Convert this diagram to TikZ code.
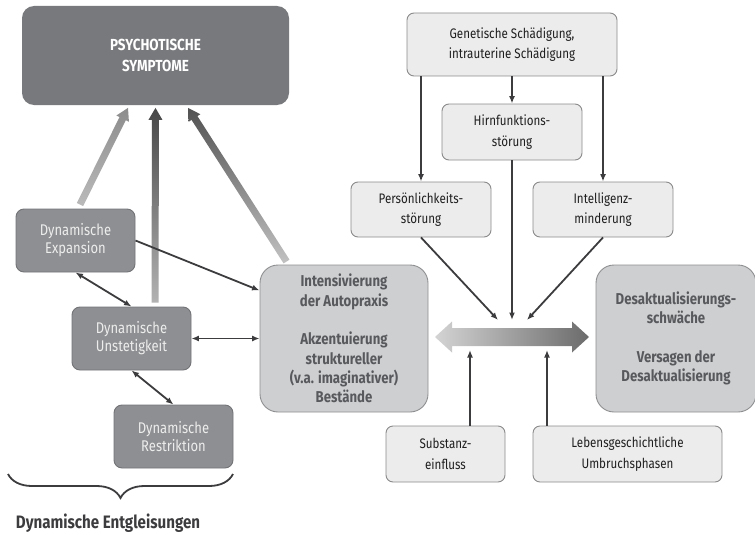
\documentclass[tikz,border=0pt]{standalone}
\usepackage{fontspec}
\setmainfont{Fira Sans}[FakeStretch=0.84]
\usetikzlibrary{arrows.meta,calc,decorations.pathreplacing}

\definecolor{symgray}{HTML}{78797C}
\definecolor{dyngray}{HTML}{8E8F92}
\definecolor{dynline}{HTML}{727376}
\definecolor{biggray}{HTML}{CECFD1}
\definecolor{bigline}{HTML}{8E8F91}
\definecolor{bigtext}{HTML}{58595C}
\definecolor{lightgray}{HTML}{ECECEC}
\definecolor{lightline}{HTML}{8A8A8A}
\definecolor{linkgray}{HTML}{3C3C3E}

\tikzset{every picture/.style={line width=1.8pt}}
\tikzset{
  symbox/.style={fill=symgray, rounded corners=12pt, text=white, align=center,
    minimum width=267pt, minimum height=99pt, inner sep=0pt,
    font=\fontsize{16}{21.7}\selectfont\bfseries},
  dynbox/.style={fill=dyngray, draw=dynline, line width=0.9pt, rounded corners=8pt,
    text=white!93!black, align=center, minimum width=119pt, minimum height=63pt,
    inner sep=0pt, font=\fontsize{15.5}{18}\selectfont},
  bigbox/.style={fill=biggray, draw=bigline, line width=0.9pt, rounded corners=18pt,
    text=bigtext, align=center, minimum height=147pt, inner sep=0pt,
    font=\fontsize{15.7}{19.3}\selectfont\bfseries},
  factbox/.style={fill=lightgray, draw=lightline, line width=0.9pt, rounded corners=7pt,
    text=black!88, align=center, minimum height=56pt, inner sep=0pt,
    font=\fontsize{13.8}{20.5}\selectfont},
  link/.style={draw=linkgray, -{Latex[length=7.5pt,width=6pt]}},
  twolink/.style={draw=linkgray, {Latex[length=7.5pt,width=6pt]}-{Latex[length=7.5pt,width=6pt]}},
}

% shaded fat arrow: start, tip, bottom colour, top colour
\newcommand{\fatarrow}[4]{%
  \shade[bottom color=#3, top color=#4]
    ($(#1)!3.5pt!90:(#2)$) -- ($($(#2)!12pt!(#1)$)!3.5pt!90:(#2)$)
    -- ($($(#2)!12pt!(#1)$)!7pt!90:(#2)$) -- (#2)
    -- ($($(#2)!12pt!(#1)$)!7pt!-90:(#2)$) -- ($($(#2)!12pt!(#1)$)!3.5pt!-90:(#2)$)
    -- ($(#1)!3.5pt!-90:(#2)$) -- cycle;}

\begin{document}
\begin{tikzpicture}[x=1pt,y=1pt,yscale=-1,xscale=1]
    \useasboundingbox (0,0) rectangle (755,535);

    % left part
    \node [symbox] (sym) at (155.5,55.5) {PSYCHOTISCHE\\SYMPTOME};
    \node [dynbox] (exp) at (75.5,240.5) {Dynamische\\Expansion};
    \node [dynbox] (unst) at (131.5,338.5) {Dynamische\\Unstetigkeit};
    \node [dynbox] (restr) at (173.5,436.5) {Dynamische\\Restriktion};
    \node [bigbox, minimum width=168pt] (int) at (344,338.5)
        {Intensivierung\\der Autopraxis\\[19.3pt]Akzentuierung\\struktureller\\(v.a. imaginativer)\\Bestände};

    % right part
    \node [bigbox, minimum width=160pt] (desakt) at (676,338.5)
        {Desaktualisierungs-\\schwäche\\[19.3pt]Versagen der\\Desaktualisierung};
    \node [factbox, minimum width=210pt, minimum height=63pt] (gen) at (512,44.5)
        {Genetische Schädigung,\\intrauterine Schädigung};
    \node [factbox, minimum width=140pt] (hirn) at (512,132) {Hirnfunktions-\\störung};
    \node [factbox, minimum width=140pt, minimum height=55pt] (pers) at (421,209.5) {Persönlichkeits-\\störung};
    \node [factbox, minimum width=140pt, minimum height=55pt] (intel) at (603,209.5) {Intelligenz-\\minderung};
    \node [factbox, minimum width=119pt] (subst) at (445.5,454) {Substanz-\\einfluss};
    \node [factbox, minimum width=189pt] (leben) at (627.5,454) {Lebensgeschichtliche\\Umbruchsphasen};

    % fat arrows to the symptoms
    \coordinate (expout) at ($(exp.north)+(4.5,-4)$);
    \coordinate (unstout) at ($(unst.north)+(23.5,-4)$);
    \coordinate (intout) at ($(int.north west)+(27,-3)$);
    \coordinate (symin1) at ($(sym.south)+(-27.5,2)$);
    \coordinate (symin2) at ($(sym.south)+(0,2)$);
    \coordinate (symin3) at ($(sym.south)+(32.5,2)$);
    \fatarrow{expout}{symin1}{black!27}{black!45}
    \fatarrow{unstout}{symin2}{black!30}{black!72}
    \fatarrow{intout}{symin3}{black!24}{black!68}

    % links in the left part
    \draw [twolink] (exp.south) -- (unst.north);
    \draw [twolink] (unst.south) -- (restr.north);
    \draw [twolink] (unst.east) -- (int.west);
    \draw [link] (exp.east) -- ($(int.west)+(0,-48)$);

    % double arrow in the middle
    \coordinate (dl) at (435,337);
    \coordinate (dr) at (589,337);
    \shade [left color=black!17, right color=black!58]
        (dl) -- ++(17,-15.5) -- ++(0,6.5) -- ($(dr)+(-17,-9)$) -- ++(0,-6.5) -- (dr)
        -- ++(-17,15.5) -- ++(0,-6.5) -- ($(dl)+(17,9)$) -- ++(0,6.5) -- cycle;

    % links in the right part
    \coordinate (m1) at (498,320);
    \coordinate (m2) at (512,320);
    \coordinate (m3) at (527,320);
    \coordinate (u1) at (470,350);
    \coordinate (u2) at (547,350);
    \draw [link] (gen.south -| pers.north) -- (pers.north);
    \draw [link] (gen.south) -- (hirn.north);
    \draw [link] (gen.south -| intel.north) -- (intel.north);
    \draw [link] (pers.south) -- (m1);
    \draw [link] (hirn.south) -- (m2);
    \draw [link] (intel.south) -- (m3);
    \draw [link] (subst.north -| u1) -- (u1);
    \draw [link] (leben.north -| u2) -- (u2);

    % brace and its label
    \draw [linkgray, decorate, decoration={brace, mirror, amplitude=24pt}] (8,474) -- (233,474);
    \node [text=linkgray, font=\fontsize{18}{20}\selectfont\bfseries] (entgl) at (108,523) {Dynamische Entgleisungen};
\end{tikzpicture}
\end{document}
